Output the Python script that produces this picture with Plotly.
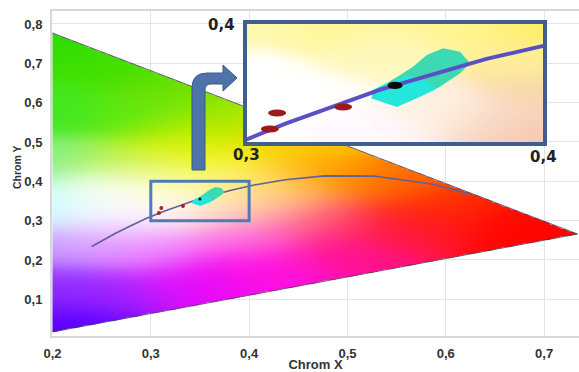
import numpy as np
import plotly.graph_objects as go

# ---------------- data ----------------
# Planckian (black body) locus
locus_x = [0.2399, 0.2565, 0.2637, 0.2807, 0.2952, 0.3135, 0.3451, 0.3805, 0.4053,
           0.4369, 0.4770, 0.5267, 0.5857, 0.6251]
locus_y = [0.2342, 0.2577, 0.2673, 0.2884, 0.3054, 0.3237, 0.3516, 0.3768, 0.3907,
           0.4041, 0.4137, 0.4133, 0.3931, 0.3674]

# gamut triangle vertices (top-left, right, bottom-left)
gamut_x = [0.200, 0.734, 0.200]
gamut_y = [0.777, 0.266, 0.017]

# measured points (red) and reference point (black)
red_x = [0.3083, 0.3107, 0.3327]
red_y = [0.3193, 0.3324, 0.3373]
black_x = [0.3500]
black_y = [0.3550]

# measurement cluster (outline)
cluster_x = [0.3422, 0.3506, 0.3583, 0.3650, 0.3717, 0.3750, 0.3717, 0.3660, 0.3606,
             0.3560, 0.3517, 0.3472, 0.3427]
cluster_y = [0.3445, 0.3376, 0.3458, 0.3540, 0.3650, 0.3731, 0.3827, 0.3854, 0.3800,
             0.3704, 0.3636, 0.3568, 0.3513]
cluster_low_x = [0.3422, 0.3506, 0.3583, 0.3640, 0.3600, 0.3540, 0.3472, 0.3427]
cluster_low_y = [0.3445, 0.3376, 0.3458, 0.3525, 0.3590, 0.3630, 0.3568, 0.3513]

# zoom window (main chart) and inset view range
zoom_x = [0.30, 0.40]
zoom_y = [0.30, 0.40]
inset_x = [0.300, 0.400]
inset_y = [0.307, 0.407]

# colour samples of the chromaticity background (x, y, colour)
bg_x = [0.215, 0.200, 0.260, 0.340, 0.420, 0.500, 0.220, 0.290, 0.400, 0.270, 0.470,
        0.560, 0.680,
        0.200, 0.245, 0.280, 0.315, 0.260, 0.300, 0.380, 0.420, 0.360, 0.400, 0.470,
        0.550, 0.600,
        0.200, 0.280, 0.360, 0.340, 0.450, 0.200, 0.290, 0.370, 0.200, 0.270, 0.330,
        0.330]
bg_y = [0.040, 0.130, 0.120, 0.140, 0.170, 0.220, 0.230, 0.220, 0.260, 0.285, 0.300,
        0.280, 0.280,
        0.345, 0.340, 0.350, 0.345, 0.375, 0.380, 0.325, 0.350, 0.385, 0.400, 0.420,
        0.400, 0.340,
        0.450, 0.440, 0.450, 0.500, 0.500, 0.580, 0.570, 0.560, 0.770, 0.690, 0.640,
        0.415]
bg_c = ['#5a00ff', '#8a30ff', '#a020ff', '#e808fa', '#ff10e0', '#ff1090', '#c8a0ff',
        '#f080ff', '#ff60e8', '#f0c8ff', '#ff5070', '#ff1830', '#ff0500',
        '#a8ffff', '#ffffff', '#ffffff', '#ffffff', '#ffffff', '#fffde0', '#fcdcd0',
        '#ffc890', '#fff8b0', '#ffe860', '#ffa000', '#ff7000', '#ff2800',
        '#88f088', '#b8f030', '#f4f400', '#d0f000', '#ffd000', '#40e820', '#60e810',
        '#a8e800', '#30dd00', '#40e000', '#70e000',
        '#ffff70']

# colour samples of the magnified inset background
ibg_x = [0.300, 0.330, 0.370, 0.400, 0.395, 0.300, 0.320, 0.300, 0.340, 0.365, 0.385,
         0.400, 0.400, 0.345]
ibg_y = [0.405, 0.400, 0.405, 0.405, 0.375, 0.365, 0.345, 0.318, 0.315, 0.335, 0.325,
         0.312, 0.350, 0.380]
ibg_c = ['#fff8b0', '#fff69a', '#fff490', '#ffee68', '#ffee98', '#ffffff', '#ffffff',
         '#ffffff', '#fff8ff', '#fff2e4', '#f8d6c4', '#f8c6ae', '#f8d6ac', '#fff8c0']

# ---------------- geometry helpers ----------------
W, H = 579, 372
ML, MR, MT, MB = 52, 0, 11, 36
XR = [0.1995, 0.7355]
YR = [0.0067, 0.833]
PW, PH = W - ML - MR, H - MT - MB


def paper(px, py):
    return (px - ML) / PW, (H - MB - py) / PH


def hex_rgb(h):
    h = h.lstrip('#')
    return [int(h[i:i + 2], 16) for i in (0, 2, 4)]


def paint(xs, ys, ax, ay, cols, sigma):
    X, Y = np.meshgrid(xs, ys)
    ax = np.array(ax)
    ay = np.array(ay)
    rgb = np.array([hex_rgb(c) for c in cols], dtype=float)
    d2 = (X[..., None] - ax) ** 2 + (Y[..., None] - ay) ** 2
    w = np.exp(-d2 / (2 * sigma ** 2))
    w /= w.sum(-1, keepdims=True)
    return w @ rgb, X, Y


# main background image (inside the gamut triangle)
dx, dy = 0.001, 0.002
xs = np.arange(0.2005, 0.7355, dx)
ys = np.arange(0.001, 0.800, dy)
rgb, X, Y = paint(xs, ys, bg_x, bg_y, bg_c, 0.04)
sx = PW / (XR[1] - XR[0])
sy = PH / (YR[1] - YR[0])
PX, PY = X * sx, Y * sy
v = [(gamut_x[i] * sx, gamut_y[i] * sy) for i in range(3)]


def edge_dist(a, b, inside):
    ex, ey = b[0] - a[0], b[1] - a[1]
    n = np.hypot(ex, ey)
    d = ((PX - a[0]) * ey - (PY - a[1]) * ex) / n
    s = np.sign((inside[0] - a[0]) * ey - (inside[1] - a[1]) * ex)
    return d * s


cen = ((v[0][0] + v[1][0] + v[2][0]) / 3, (v[0][1] + v[1][1] + v[2][1]) / 3)
dmin = np.minimum(edge_dist(v[0], v[1], cen), edge_dist(v[1], v[2], cen))
alpha = np.clip(dmin + 0.5, 0, 1)
img = np.concatenate([np.round(rgb), alpha[..., None]], axis=-1)

# inset background image
istep = 0.0005
ixs = np.arange(inset_x[0] + istep / 2, inset_x[1], istep)
iys = np.arange(inset_y[0] + istep / 2, inset_y[1], istep)
irgb, _, _ = paint(ixs, iys, ibg_x, ibg_y, ibg_c, 0.012)
iimg = np.concatenate([np.round(irgb), np.ones(irgb.shape[:2] + (1,))], axis=-1)

fig = go.Figure()

fig.add_trace(go.Image(z=img, colormodel='rgba', x0=xs[0], dx=dx, y0=ys[0], dy=dy,
                       hoverinfo='skip'))
# gamut outline (top and bottom edges)
fig.add_trace(go.Scatter(x=gamut_x, y=gamut_y, mode='lines',
                         line=dict(color='rgba(70,45,90,0.75)', width=1), hoverinfo='skip'))
# locus
fig.add_trace(go.Scatter(x=locus_x, y=locus_y, mode='lines',
                         line=dict(color='#5f5f9c', width=1.6), hoverinfo='skip'))
# cluster
fig.add_trace(go.Scatter(x=cluster_x + [cluster_x[0]], y=cluster_y + [cluster_y[0]],
                         fill='toself', fillcolor='#3dd9b2', mode='lines',
                         line=dict(width=0, color='#3dd9b2')))
fig.add_trace(go.Scatter(x=cluster_low_x + [cluster_low_x[0]], y=cluster_low_y + [cluster_low_y[0]],
                         fill='toself', fillcolor='#25e6dc', mode='lines',
                         line=dict(width=0, color='#25e6dc')))
fig.add_trace(go.Scatter(x=red_x, y=red_y, mode='markers',
                         marker=dict(color='#a82424', size=4)))
fig.add_trace(go.Scatter(x=black_x, y=black_y, mode='markers',
                         marker=dict(color='#111111', size=3)))

# ---- inset (zoomed view) ----
fig.add_trace(go.Image(z=iimg, colormodel='rgba', x0=ixs[0], dx=istep, y0=iys[0], dy=istep,
                       xaxis='x2', yaxis='y2', hoverinfo='skip'))
fig.add_trace(go.Scatter(x=cluster_x + [cluster_x[0]], y=cluster_y + [cluster_y[0]],
                         fill='toself', fillcolor='#3dd9b2', mode='lines',
                         line=dict(width=0, color='#3dd9b2'), xaxis='x2', yaxis='y2'))
fig.add_trace(go.Scatter(x=cluster_low_x + [cluster_low_x[0]], y=cluster_low_y + [cluster_low_y[0]],
                         fill='toself', fillcolor='#25e6dc', mode='lines',
                         line=dict(width=0, color='#25e6dc'), xaxis='x2', yaxis='y2'))
fig.add_trace(go.Scatter(x=locus_x, y=locus_y, mode='lines',
                         line=dict(color='#5b4fc6', width=4), xaxis='x2', yaxis='y2',
                         hoverinfo='skip'))

shapes = []
for x, y in zip(red_x, red_y):
    shapes.append(dict(type='circle', xref='x2', yref='y2', x0=x - 0.003, x1=x + 0.003,
                       y0=y - 0.0028, y1=y + 0.0028, fillcolor='#9c1a1a', line=dict(width=0)))
for x, y in zip(black_x, black_y):
    shapes.append(dict(type='circle', xref='x2', yref='y2', x0=x - 0.0025, x1=x + 0.0025,
                       y0=y - 0.003, y1=y + 0.003, fillcolor='#0a0a0a', line=dict(width=0)))
# inset frame
shapes.append(dict(type='rect', xref='x2 domain', yref='y2 domain', x0=0, x1=1, y0=0, y1=1,
                   line=dict(color='#3f5f8e', width=4), fillcolor='rgba(0,0,0,0)'))
# zoom window on the main chart
shapes.append(dict(type='rect', xref='x', yref='y', x0=zoom_x[0], x1=zoom_x[1],
                   y0=zoom_y[0], y1=zoom_y[1],
                   line=dict(color='#4f7cb8', width=3), fillcolor='rgba(0,0,0,0)'))
# bent arrow
pts = [('M', 192, 170), ('L', 192, 88), ('Q', 192, 73, 207, 73), ('L', 223, 73),
       ('L', 223, 65), ('L', 237, 78), ('L', 223, 91), ('L', 223, 84), ('L', 211, 84),
       ('Q', 205, 84, 205, 90), ('L', 205, 170)]
path = ''
for p in pts:
    cmd, coords = p[0], p[1:]
    xy = []
    for i in range(0, len(coords), 2):
        a, b = paper(coords[i], coords[i + 1])
        xy.append(f'{a:.5f},{b:.5f}')
    path += cmd + ' ' + ' '.join(xy) + ' '
path += 'Z'
shapes.append(dict(type='path', xref='paper', yref='paper', path=path,
                   fillcolor='#4e73a8', line=dict(color='#3b5b8c', width=1)))

ann_font = dict(family='DejaVu Sans', size=15, color='#222222', weight='bold')
annotations = []
for txt, px, py in [('0,4', 221.5, 25), ('0,3', 246.7, 155), ('0,4', 543.5, 156.5)]:
    a, b = paper(px, py)
    annotations.append(dict(text=txt, x=a, y=b, xref='paper', yref='paper', showarrow=False,
                            font=ann_font, xanchor='center', yanchor='middle'))
# y axis title
a, b = paper(17, 167)
annotations.append(dict(text='Chrom Y', x=a, y=b, xref='paper', yref='paper', showarrow=False,
                        textangle=-90, xanchor='center', yanchor='middle',
                        font=dict(family='Liberation Sans', size=10.5, color='#333333',
                                  weight='bold')))

tick_font = dict(family='Liberation Sans', size=13, color='#333333', weight='bold')
ix0, iy1 = paper(245, 22)
ix1, iy0 = paper(545, 144)

fig.update_layout(
    template='none',
    width=W, height=H,
    margin=dict(l=ML, r=MR, t=MT, b=MB, pad=0),
    paper_bgcolor='white', plot_bgcolor='white',
    showlegend=False,
    separators=', ',
    xaxis=dict(range=XR, tick0=0.2, dtick=0.1, tickformat='.1f', showgrid=True,
               gridcolor='#e4e4e4', gridwidth=1.2, zeroline=False, showline=True,
               linecolor='#d8d8d8', linewidth=2, mirror=True, ticks='', automargin=False,
               tickfont=tick_font, ticklabelstandoff=4,
               title=dict(text='Chrom X', font=dict(family='Liberation Sans', size=13,
                                                   color='#333333', weight='bold'), standoff=2)),
    yaxis=dict(range=YR, tick0=0.1, dtick=0.1, tickformat='.1f', showgrid=True,
               gridcolor='#e4e4e4', gridwidth=1.2, zeroline=False, showline=True,
               linecolor='#d8d8d8', linewidth=2, ticks='', automargin=False,
               tickfont=tick_font, ticklabelstandoff=5, scaleanchor=False, autorange=False),
    xaxis2=dict(domain=[ix0, ix1], anchor='y2', range=inset_x, visible=False),
    yaxis2=dict(domain=[iy0, iy1], anchor='x2', range=inset_y, visible=False,
                scaleanchor=False, autorange=False),
    shapes=shapes,
    annotations=annotations,
)

fig.write_html('out.html', config={'displayModeBar': False},
               post_script="document.body.style.margin='0';")
